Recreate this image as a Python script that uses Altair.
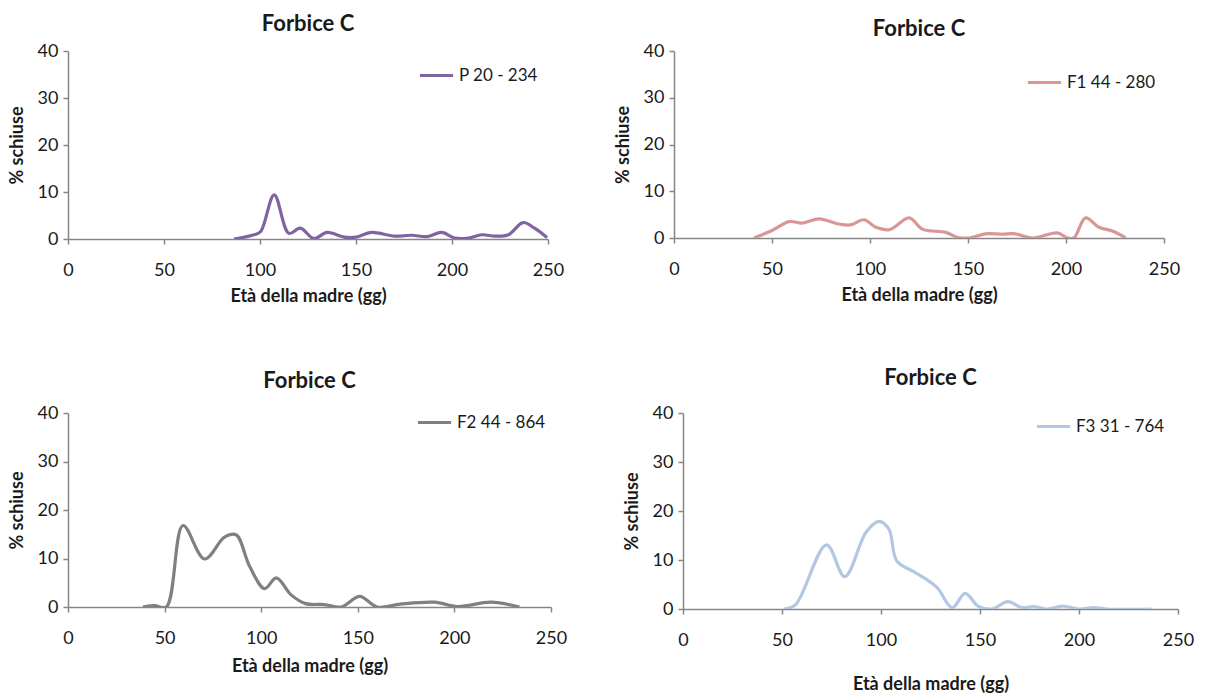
import altair as alt
import pandas as pd

FONT = "Lato"

# ---- data ----
p_x = [86.5, 97, 100.4, 107.4, 115, 121, 128, 135, 144, 150, 158, 170, 179, 187, 194.6, 201.5, 208.5, 215.5, 222.5, 229.4, 237, 243, 249.5]
p_y = [0.0, 0.9, 1.6, 9.4, 1.2, 2.3, 0.1, 1.4, 0.4, 0.4, 1.4, 0.6, 0.8, 0.5, 1.4, 0.2, 0.2, 0.9, 0.6, 0.9, 3.5, 2.3, 0.3]

f1_x = [40.8, 50, 58.7, 65.5, 74, 84, 90, 97, 103, 110, 120, 126.7, 138.6, 145, 150.5, 159, 167.5, 174, 183, 195.6, 200.7, 204, 210, 216.8, 223.6, 230.4]
f1_y = [0.0, 1.6, 3.5, 3.2, 4.1, 3.0, 2.8, 3.9, 2.3, 1.8, 4.3, 1.9, 1.2, 0.1, 0.0, 0.9, 0.8, 0.9, 0.0, 1.1, 0.0, 0.0, 4.3, 2.3, 1.5, 0.1]

f2_x = [38.8, 44.8, 50.9, 59.5, 70.7, 81, 87, 94, 101.7, 107.8, 115.5, 123, 132.8, 141.4, 151, 160, 172, 189.7, 201.7, 219, 233.6]
f2_y = [0.0, 0.3, 0.0, 16.8, 9.9, 14.4, 14.9, 8.4, 3.8, 6.0, 2.5, 0.7, 0.5, 0.0, 2.2, 0.0, 0.6, 1.0, 0.1, 1.0, 0.0]

f3_x = [50.8, 56.7, 72.5, 81.7, 92.5, 99, 104, 108, 117.5, 128, 136, 142.5, 149, 156, 164, 171, 177.5, 184, 191.7, 200, 207.5, 214, 236.7]
f3_y = [0.0, 0.8, 13.1, 6.6, 15.7, 17.9, 16.3, 9.8, 7.4, 4.5, 0.3, 3.2, 0.6, 0.0, 1.5, 0.3, 0.5, 0.0, 0.6, 0.0, 0.3, 0.0, 0.0]

series_names = ["P 20 - 234", "F1 44 - 280", "F2 44 - 864", "F3 31 - 764"]
series_colors = ["#8064A2", "#D99694", "#808080", "#B4C7E2"]
x_ticks = [0, 50, 100, 150, 200, 250]
y_ticks = [0, 10, 20, 30, 40]
chart_title = "Forbice C"
x_title = "Età della madre (gg)"
y_title = "% schiuse"


def panel(xs, ys, name, color, w, h, title_off, lx, ly, xt_pad):
    df = pd.DataFrame({"x": xs, "y": ys, "s": [name] * len(xs)})
    return (
        alt.Chart(df)
        .mark_line(strokeWidth=3.2, interpolate="catmull-rom", clip=True)
        .encode(
            x=alt.X(
                "x:Q",
                scale=alt.Scale(domain=[0, 250], nice=False, zero=False),
                axis=alt.Axis(values=x_ticks, title=x_title, titlePadding=xt_pad),
            ),
            y=alt.Y(
                "y:Q",
                scale=alt.Scale(domain=[0, 40], nice=False),
                axis=alt.Axis(values=y_ticks, title=y_title),
            ),
            color=alt.Color(
                "s:N",
                scale=alt.Scale(domain=[name], range=[color]),
                legend=alt.Legend(
                    title=None,
                    orient="none",
                    legendX=lx,
                    legendY=ly,
                    symbolType="stroke",
                    symbolSize=1100,
                    symbolStrokeWidth=3.2,
                    labelFontSize=17,
                    labelFont=FONT,
                    labelColor="#1a1a1a",
                    labelOffset=4,
                ),
            ),
        )
        .properties(
            width=w,
            height=h,
            title=alt.TitleParams(chart_title, offset=title_off),
        )
    )


p1 = panel(p_x, p_y, series_names[0], series_colors[0], 480, 188, 6, 350, 6, 8)
p2 = panel(f1_x, f1_y, series_names[1], series_colors[1], 490, 187, 1, 352, 13, 8)
p3 = panel(f2_x, f2_y, series_names[2], series_colors[2], 483, 194, 11, 348, -9, 10)
p4 = panel(f3_x, f3_y, series_names[3], series_colors[3], 495, 196, 14, 352, -5, 26)

row1 = alt.hconcat(p1, p2, spacing=126, bounds="flush").resolve_scale(color="independent")
row2 = alt.hconcat(p3, p4, spacing=132, bounds="flush").resolve_scale(color="independent")

chart = (
    alt.vconcat(row1, row2, spacing=362, bounds="flush")
    .resolve_scale(color="independent")
    .properties(padding={"left": 8, "top": 13, "right": 5, "bottom": 5})
    .configure(font=FONT, background="white")
    .configure_view(stroke=None)
    .configure_axis(
        grid=False,
        domainColor="#868686",
        domainWidth=1.5,
        tickColor="#868686",
        tickWidth=1.5,
        tickSize=5,
        labelFont=FONT,
        labelFontSize=18,
        labelColor="#1a1a1a",
        titleFont=FONT,
        titleFontSize=18,
        titleFontWeight="bold",
        titleColor="#1a1a1a",
    )
    .configure_axisX(labelPadding=17, labelFlush=False)
    .configure_axisY(labelPadding=5, titlePadding=11)
    .configure_title(font=FONT, fontSize=22, fontWeight="bold", color="#1a1a1a", anchor="middle")
)

chart.save("out.html", embed_options={"renderer": "svg", "actions": False})
